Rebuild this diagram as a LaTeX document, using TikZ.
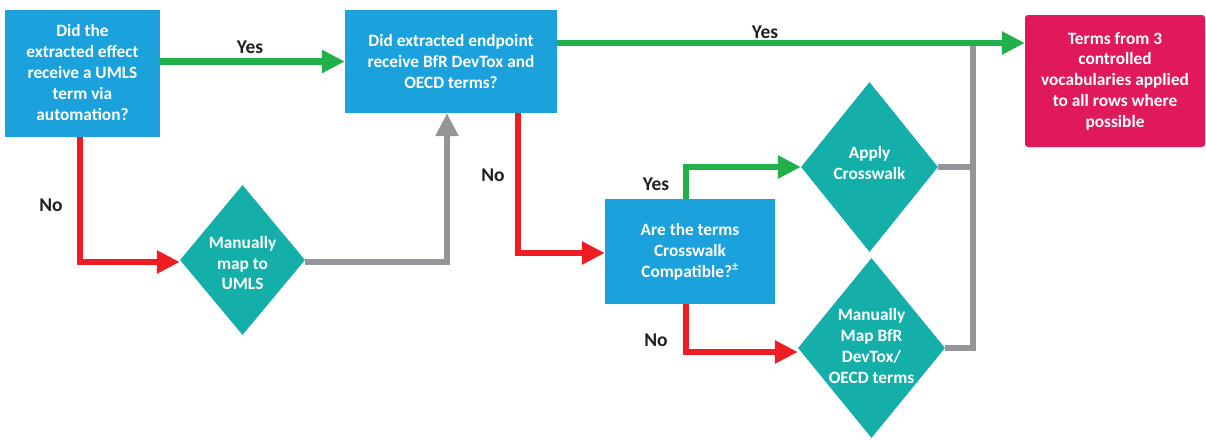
\documentclass[tikz,border=0pt]{standalone}
\usepackage{fontspec}
\setmainfont{Carlito}
\usetikzlibrary{arrows.meta,shapes.geometric}
\definecolor{cblue}{HTML}{1BA1DB}
\definecolor{cteal}{HTML}{15AFA9}
\definecolor{cpink}{HTML}{E0195A}
\definecolor{cgreen}{HTML}{22B04B}
\definecolor{cred}{HTML}{EE1D23}
\definecolor{cgray}{HTML}{939598}
\definecolor{cdark}{HTML}{231F20}
\tikzset{
  x=1pt, y=-1pt,
  wtext/.style={text=white, font=\fontsize{17.3}{20.8}\selectfont\bfseries, align=center, inner sep=0},
  bbox/.style={fill=cblue, inner sep=0},
  dia/.style={diamond, fill=cteal, inner sep=0},
  lbl/.style={text=cdark, font=\fontsize{19.5}{21}\selectfont\bfseries, inner sep=0},
  tip/.style={-{Triangle[length=23pt,width=22pt]}},
  garrow/.style={draw=cgreen, line width=6.5pt, tip},
  rarrow/.style={draw=cred, line width=6.5pt, tip},
  grarrow/.style={draw=cgray, line width=6.5pt, tip},
  gline/.style={draw=cgray, line width=6.5pt},
}
\begin{document}
\begin{tikzpicture}
\useasboundingbox (0,0) rectangle (1206,439);
% boxes
\node[bbox, minimum width=155pt, minimum height=127pt] (b1) at (82.5,73.5) {};
\node[wtext] at ([yshift=1pt]b1) {Did the\\extracted effect\\receive a UMLS\\term via\\automation?};
\node[bbox, minimum width=212pt, minimum height=103pt] (b2) at (451,61.5) {};
\node[wtext] at (b2) {Did extracted endpoint\\receive BfR DevTox and\\OECD terms?};
\node[bbox, minimum width=170pt, minimum height=105pt] (b3) at (690,251.5) {};
\node[wtext] at (b3) {Are the terms\\Crosswalk\\Compatible?\textsuperscript{±}};
\node[fill=cpink, rounded corners=3pt, minimum width=180pt, minimum height=132pt, inner sep=0] (pk) at (1115,81) {};
\node[wtext] at (pk) {Terms from 3\\controlled\\vocabularies applied\\to all rows where\\possible};
% diamonds
\node[dia, minimum width=125pt, minimum height=150pt] (d1) at (242.5,260) {};
\node[wtext] at ([yshift=-3pt]d1) {Manually\\map to\\UMLS};
\node[dia, minimum width=137pt, minimum height=170pt] (d2) at (869.5,167) {};
\node[wtext] at ([yshift=4pt]d2) {Apply\\Crosswalk};
\node[dia, minimum width=147pt, minimum height=180pt] (d3) at (871.5,348) {};
\node[wtext] at ([yshift=2pt]d3) {Manually\\Map BfR\\DevTox/\\OECD terms};
% junction
\coordinate (jn) at (973,45);
% gray joins (drawn first)
\draw[gline] (d3.east) -| (jn);
\draw[gline] (d2.east) -- (d2.east -| jn);
% connectors
\draw[garrow] (b1.east |- b2.west) -- (b2.west);
\draw[garrow] ([yshift=18.5pt]b2.east) -- ([yshift=18.5pt]b2.east -| pk.west);
\draw[rarrow] ([xshift=-2.5pt]b1.south) |- ([yshift=-2pt]d1.west);
\draw[grarrow] ([yshift=-2pt]d1.east) -| ([xshift=-4pt]b2.south);
\draw[rarrow] ([xshift=67pt]b2.south) |- ([yshift=-1.5pt]b3.west);
\draw[garrow] ([xshift=-4pt]b3.north) |- (d2.west);
\draw[rarrow] ([xshift=-4pt]b3.south) |- ([yshift=-4pt]d3.west);
% labels
\node[lbl] (l1) at (250,47) {Yes};
\node[lbl] (l2) at (765,32) {Yes};
\node[lbl] (l3) at (51,205) {No};
\node[lbl] (l4) at (493,175) {No};
\node[lbl] (l5) at (656,184) {Yes};
\node[lbl] (l6) at (656,340) {No};
\end{tikzpicture}
\end{document}
